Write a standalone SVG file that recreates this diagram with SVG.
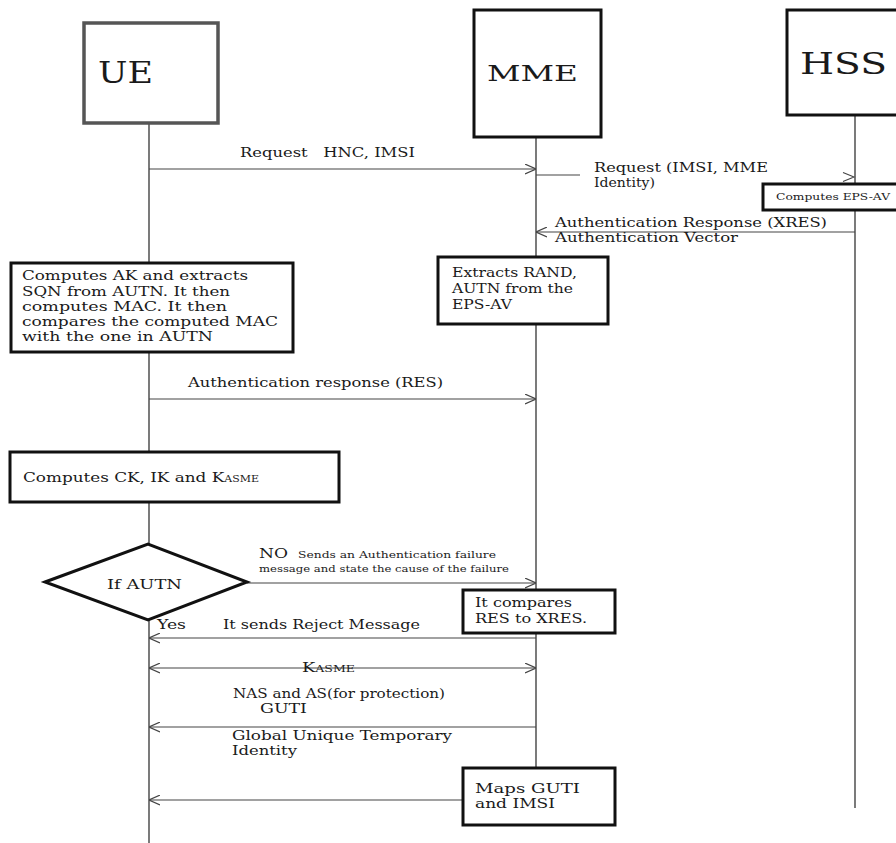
<svg xmlns="http://www.w3.org/2000/svg" width="896" height="843" viewBox="0 0 896 843">
<style>
text{font-family:"DejaVu Serif","Liberation Serif",serif;fill:#1a1a1a}
.t{font-size:13px}
.s{font-size:9.5px}
.big{font-size:29px}
.box{fill:#fff;stroke:#111;stroke-width:3}
.life{stroke:#333;stroke-width:1.3;fill:none}
.msg{stroke:#444;stroke-width:1.1;fill:none}
</style>
<defs>
<marker id="ah" viewBox="0 0 10 10" refX="10" refY="5" markerWidth="11" markerHeight="11" markerUnits="userSpaceOnUse" orient="auto-start-reverse">
<path d="M0,0.5 L10,5 L0,9.5" fill="none" stroke="#444" stroke-width="1.1"/>
</marker>
</defs>
<rect width="896" height="843" fill="#fff"/>

<g id="lifelines">
<line class="life" x1="149" y1="123" x2="149" y2="843"/>
<line class="life" x1="536" y1="137" x2="536" y2="768"/>
<line class="life" x1="855" y1="115" x2="855" y2="808"/>
</g>

<g id="connectors">
<line class="msg" x1="149" y1="169" x2="536" y2="169" marker-end="url(#ah)"/>
<line class="msg" x1="536" y1="175" x2="580" y2="175"/>
<path class="msg" d="M843,172.5 L854,177 L843,181.5"/>
<line class="msg" x1="855" y1="232" x2="536" y2="232" marker-end="url(#ah)"/>
<line class="msg" x1="149" y1="399" x2="536" y2="399" marker-end="url(#ah)"/>
<line class="msg" x1="247" y1="583" x2="536" y2="583" marker-end="url(#ah)"/>
<line class="msg" x1="536" y1="638" x2="149" y2="638" marker-end="url(#ah)"/>
<line class="msg" x1="149" y1="668" x2="536" y2="668" marker-start="url(#ah)" marker-end="url(#ah)"/>
<line class="msg" x1="536" y1="727" x2="149" y2="727" marker-end="url(#ah)"/>
<line class="msg" x1="463" y1="800" x2="149" y2="800" marker-end="url(#ah)"/>
</g>

<g id="labels">
<text class="t" x="240" y="157" textLength="175" lengthAdjust="spacingAndGlyphs" xml:space="preserve">Request   HNC, IMSI</text>
<text class="t" x="594" y="172" textLength="174" lengthAdjust="spacingAndGlyphs">Request (IMSI, MME</text>
<text class="t" x="594" y="187" textLength="61" lengthAdjust="spacingAndGlyphs">Identity)</text>
<text class="t" x="555" y="227" textLength="272" lengthAdjust="spacingAndGlyphs">Authentication Response (XRES)</text>
<text class="t" x="555" y="242" textLength="183" lengthAdjust="spacingAndGlyphs">Authentication Vector</text>
<text class="t" x="188" y="387" textLength="255" lengthAdjust="spacingAndGlyphs">Authentication response (RES)</text>
<text x="259" y="558" font-size="12" textLength="29" lengthAdjust="spacingAndGlyphs">NO</text>
<text class="s" x="298" y="558" textLength="198" lengthAdjust="spacingAndGlyphs">Sends an Authentication failure</text>
<text class="s" x="259" y="572" textLength="250" lengthAdjust="spacingAndGlyphs">message and state the cause of the failure</text>
<text class="t" x="157" y="629" textLength="29" lengthAdjust="spacingAndGlyphs">Yes</text>
<text class="t" x="223" y="629" textLength="197" lengthAdjust="spacingAndGlyphs">It sends Reject Message</text>
<text x="302" y="672" textLength="53" lengthAdjust="spacingAndGlyphs"><tspan font-size="12">K</tspan><tspan font-size="8.5">ASME</tspan></text>
<text class="t" x="233" y="698" textLength="212" lengthAdjust="spacingAndGlyphs">NAS and AS(for protection)</text>
<text class="t" x="260" y="713" textLength="47" lengthAdjust="spacingAndGlyphs">GUTI</text>
<text class="t" x="232" y="740" textLength="220" lengthAdjust="spacingAndGlyphs">Global Unique Temporary</text>
<text class="t" x="232" y="755" textLength="65" lengthAdjust="spacingAndGlyphs">Identity</text>
</g>

<g id="ue">
<rect x="84" y="23" width="134" height="100" fill="#fff" stroke="#555" stroke-width="3.5"/>
<text class="big" x="98" y="83" textLength="55" lengthAdjust="spacingAndGlyphs">UE</text>
</g>

<g id="mme">
<rect x="474" y="10" width="127" height="127" class="box" stroke-width="3.5"/>
<text x="487" y="81" font-size="23" textLength="91" lengthAdjust="spacingAndGlyphs">MME</text>
</g>

<g id="hss">
<rect x="787" y="10" width="112" height="105" class="box" stroke-width="3.5"/>
<text x="800" y="74" font-size="30" textLength="87" lengthAdjust="spacingAndGlyphs">HSS</text>
</g>

<g id="hss-computes">
<rect x="763" y="184" width="135" height="26" class="box"/>
<text class="s" x="776" y="200" textLength="114" lengthAdjust="spacingAndGlyphs">Computes EPS-AV</text>
</g>

<g id="ue-computes-ak">
<rect x="11" y="263" width="282" height="89" class="box"/>
<text class="t" x="22" y="280" textLength="226" lengthAdjust="spacingAndGlyphs">Computes AK and extracts</text>
<text class="t" x="22" y="296" textLength="208" lengthAdjust="spacingAndGlyphs">SQN from AUTN. It then</text>
<text class="t" x="22" y="311" textLength="205" lengthAdjust="spacingAndGlyphs">computes MAC. It then</text>
<text class="t" x="22" y="326" textLength="256" lengthAdjust="spacingAndGlyphs">compares the computed MAC</text>
<text class="t" x="22" y="341" textLength="191" lengthAdjust="spacingAndGlyphs">with the one in AUTN</text>
</g>

<g id="mme-extracts">
<rect x="438" y="257" width="170" height="67" class="box"/>
<text class="t" x="452" y="277" textLength="125" lengthAdjust="spacingAndGlyphs">Extracts RAND,</text>
<text class="t" x="452" y="293" textLength="121" lengthAdjust="spacingAndGlyphs">AUTN from the</text>
<text class="t" x="452" y="309" textLength="60" lengthAdjust="spacingAndGlyphs">EPS-AV</text>
</g>

<g id="ue-computes-ck">
<rect x="10" y="452" width="329" height="50" class="box"/>
<text x="23" y="482" textLength="236" lengthAdjust="spacingAndGlyphs"><tspan font-size="13">Computes CK, IK and K</tspan><tspan font-size="8.5">ASME</tspan></text>
</g>

<g id="if-autn">
<polygon points="45,582 148,544 247,582 148,620" fill="#fff" stroke="#111" stroke-width="3"/>
<text class="t" x="107" y="589" textLength="75" lengthAdjust="spacingAndGlyphs">If AUTN</text>
</g>

<g id="mme-compares">
<rect x="463" y="590" width="152" height="43" class="box"/>
<text class="t" x="475" y="607" textLength="97" lengthAdjust="spacingAndGlyphs">It compares</text>
<text class="t" x="475" y="623" textLength="112" lengthAdjust="spacingAndGlyphs">RES to XRES.</text>
</g>

<g id="mme-maps">
<rect x="463" y="768" width="152" height="57" class="box"/>
<text class="t" x="475" y="793" textLength="105" lengthAdjust="spacingAndGlyphs">Maps GUTI</text>
<text class="t" x="475" y="808" textLength="80" lengthAdjust="spacingAndGlyphs">and IMSI</text>
</g>
</svg>
